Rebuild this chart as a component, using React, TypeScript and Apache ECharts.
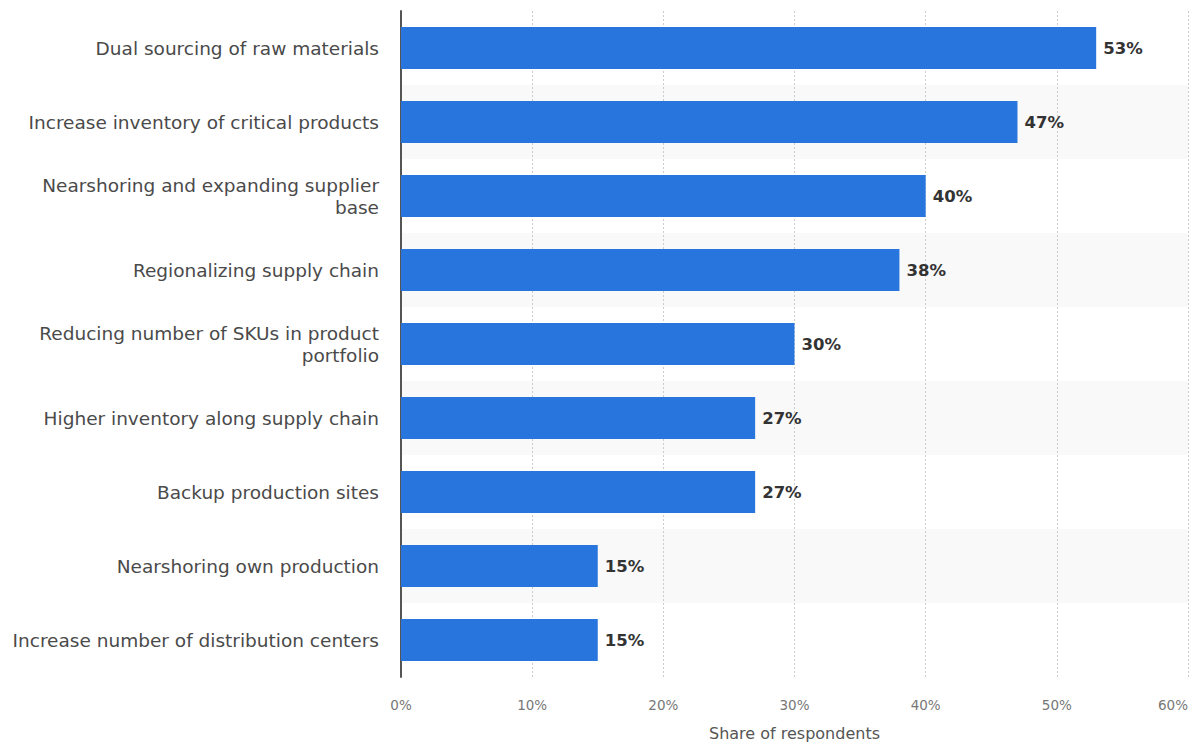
import React, { useEffect, useRef } from "react";
import * as echarts from "echarts";

const categories = [
  "Dual sourcing of raw materials",
  "Increase inventory of critical products",
  "Nearshoring and expanding supplier\nbase",
  "Regionalizing supply chain",
  "Reducing number of SKUs in product\nportfolio",
  "Higher inventory along supply chain",
  "Backup production sites",
  "Nearshoring own production",
  "Increase number of distribution centers",
];
const values = [53, 47, 40, 38, 30, 27, 27, 15, 15];
const axisName = "Share of respondents";

export default function App() {
  const ref = useRef<HTMLDivElement>(null);
  useEffect(() => {
    if (!ref.current) return;
    const chart = echarts.init(ref.current, undefined, { renderer: "svg" });
    const font = "DejaVu Sans";
    chart.setOption({
      animation: false,
      grid: { left: 393, right: 3, top: 3, bottom: 74, containLabel: false, outerBoundsMode: "none" },
      xAxis: {
        type: "value",
        min: 0,
        max: 60,
        interval: 10,
        name: axisName,
        nameLocation: "middle",
        nameGap: 48,
        nameTextStyle: { fontFamily: font, fontSize: 16, color: "#555" },
        axisLabel: {
          formatter: "{value}%",
          fontFamily: font,
          fontSize: 13.5,
          color: "#777",
          margin: 21,
          alignMaxLabel: "right",
        },
        axisLine: { show: false },
        axisTick: { show: false },
        splitLine: { show: true, lineStyle: { type: [2, 2], color: "#ccc", width: 1 } },
      },
      yAxis: {
        type: "category",
        data: categories,
        inverse: true,
        axisLine: { show: true, lineStyle: { color: "#555", width: 2 } },
        axisTick: { show: false },
        axisLabel: { fontFamily: font, fontSize: 18.5, color: "#4a4a4a", margin: 22, lineHeight: 22, align: "right" },
        splitArea: { show: true, areaStyle: { color: ["#ffffff", "#f9f9f9"] } },
      },
      series: [
        {
          type: "bar",
          data: values,
          barWidth: 42,
          itemStyle: { color: "#2876dd" },
          label: {
            show: true,
            position: "right",
            distance: 7,
            formatter: "{c}%",
            fontFamily: font,
            fontSize: 16.5,
            fontWeight: "bold",
            color: "#333",
          },
        },
      ],
    });
    return () => chart.dispose();
  }, []);
  return <div ref={ref} style={{ width: 1183, height: 743, marginBottom: -8 }} />;
}
